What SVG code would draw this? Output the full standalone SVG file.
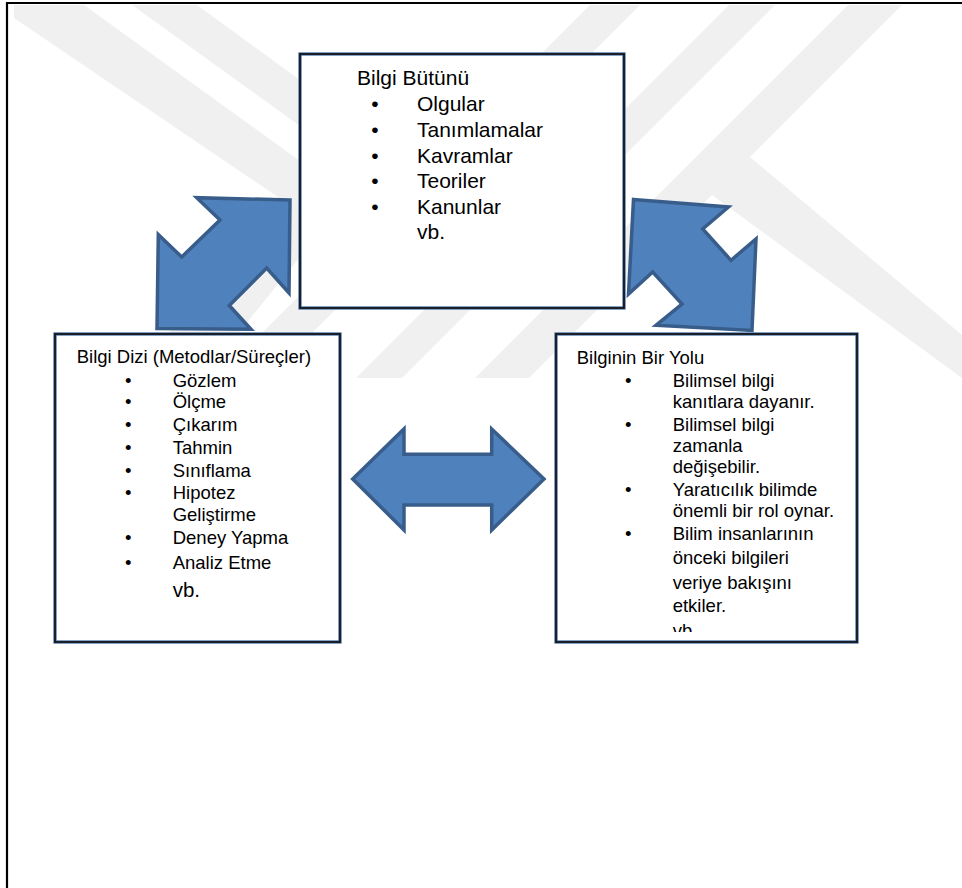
<svg xmlns="http://www.w3.org/2000/svg" width="962" height="888" viewBox="0 0 962 888">
<defs>
<style>
.wm{fill:#f0f0f0}
.arrow{fill:#4f81bd;stroke:#385d8a;stroke-width:3.5;stroke-linejoin:miter}
.boxo{fill:#ffffff;stroke:#5479ab;stroke-width:3.4}
.boxi{fill:none;stroke:#111111;stroke-width:1.7}
.t{font-family:"Liberation Sans",Arial,sans-serif;fill:#000}
.f21{font-size:21px}
.f18{font-size:18.5px}
.f20{font-size:20.5px}
</style>
<clipPath id="clipRight"><rect x="556" y="334" width="301" height="298"/></clipPath>
</defs>
<rect x="0" y="0" width="962" height="888" fill="#ffffff"/>
<g id="watermark">
<polygon class="wm" points="14,5 84,5 300,161 300,212 14,18"/>
<polygon class="wm" points="132,5 197,5 300,80 300,126"/>
<polygon class="wm" points="132,378 202,378 300,257 300,172"/>
<polygon class="wm" points="590,5 640,5 267,378 217,378"/>
<polygon class="wm" points="729,5 775,5 402,378 356,378"/>
<polygon class="wm" points="848,5 902,5 529,378 475,378"/>
<polygon class="wm" points="750,157 962,335 962,378 712,195"/>
</g>
<g id="frame" stroke="#000" stroke-width="2.2" fill="none">
<line x1="7" y1="2" x2="7" y2="888"/>
<line x1="6" y1="3" x2="962" y2="3"/>
</g>
<g id="connectors">
<polygon class="arrow" points="290,200 196.7,197.7 220,220 181.7,257 158.3,234.5 157,328.5 251,329.3 229.3,305.5 266.7,268 289,293"/>
<polygon class="arrow" points="633.5,199.5 728.5,207 702.7,229 731,260.3 756,239 752,330.5 656,325.3 682,304 652.7,272 628.5,294"/>
<polygon class="arrow" points="352.7,479 404,429 404,454.3 491.7,454.3 491.7,429 544,479 491.7,530 491.7,505 404,505 404,530"/>
</g>
<g id="node-bilgi-butunu">
<rect class="boxo" x="300" y="54" width="324" height="254"/>
<rect class="boxi" x="300" y="54" width="324" height="254"/>
<text class="t f21" x="357" y="84.5">Bilgi Bütünü</text>
<g class="t f21">
<text x="371.3" y="111">•</text><text x="417" y="111">Olgular</text>
<text x="371.3" y="136.5">•</text><text x="417" y="136.5">Tanımlamalar</text>
<text x="371.3" y="162.5">•</text><text x="417" y="162.5">Kavramlar</text>
<text x="371.3" y="188">•</text><text x="417" y="188">Teoriler</text>
<text x="371.3" y="214">•</text><text x="417" y="214">Kanunlar</text>
<text x="417" y="238.5">vb.</text>
</g>
</g>
<g id="node-bilgi-dizi">
<rect class="boxo" x="55" y="334" width="285" height="308"/>
<rect class="boxi" x="55" y="334" width="285" height="308"/>
<text class="t f18" x="76.7" y="363">Bilgi Dizi (Metodlar/Süreçler)</text>
<g class="t f18">
<text x="125" y="386.5">•</text><text x="172.7" y="386.5">Gözlem</text>
<text x="125" y="408">•</text><text x="172.7" y="408">Ölçme</text>
<text x="125" y="431">•</text><text x="172.7" y="431">Çıkarım</text>
<text x="125" y="454">•</text><text x="172.7" y="454">Tahmin</text>
<text x="125" y="476.5">•</text><text x="172.7" y="476.5">Sınıflama</text>
<text x="125" y="499">•</text><text x="172.7" y="499">Hipotez</text>
<text x="172.7" y="521">Geliştirme</text>
<text x="125" y="543.5">•</text><text x="172.7" y="543.5">Deney Yapma</text>
<text x="125" y="568.5">•</text><text x="172.7" y="568.5">Analiz Etme</text>
</g>
<text class="t f20" x="172.7" y="597">vb.</text>
</g>
<g id="node-bilginin-bir-yolu">
<rect class="boxo" x="556" y="334" width="301" height="308"/>
<rect class="boxi" x="556" y="334" width="301" height="308"/>
<g class="t f18" clip-path="url(#clipRight)">
<text x="576.7" y="363.5">Bilginin Bir Yolu</text>
<text x="625" y="387">•</text><text x="672.7" y="387">Bilimsel bilgi</text>
<text x="672.7" y="407.5">kanıtlara dayanır.</text>
<text x="625" y="431">•</text><text x="672.7" y="431">Bilimsel bilgi</text>
<text x="672.7" y="451.5">zamanla</text>
<text x="672.7" y="472.5">değişebilir.</text>
<text x="625" y="496">•</text><text x="672.7" y="496">Yaratıcılık bilimde</text>
<text x="672.7" y="516.5">önemli bir rol oynar.</text>
<text x="625" y="540">•</text><text x="672.7" y="540">Bilim insanlarının</text>
<text x="672.7" y="563.5">önceki bilgileri</text>
<text x="672.7" y="588.5">veriye bakışını</text>
<text x="672.7" y="611.5">etkiler.</text>
<text x="672.7" y="637">vb.</text>
</g>
</g>
</svg>
